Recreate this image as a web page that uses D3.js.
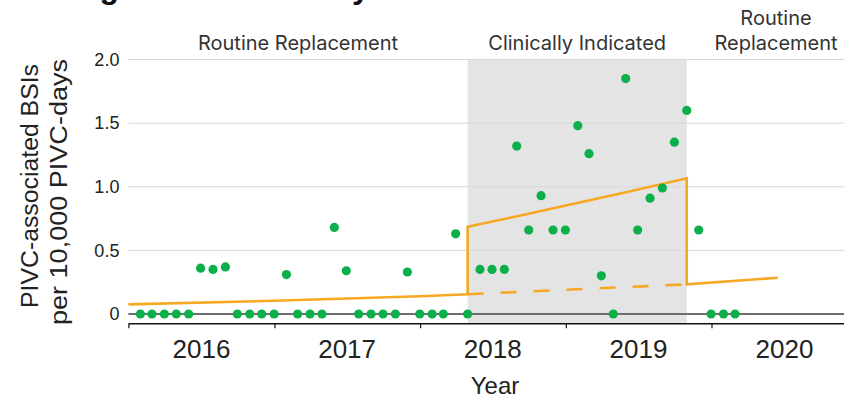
<!DOCTYPE html>
<html>
<head>
<meta charset="utf-8">
<script src="https://cdn.jsdelivr.net/npm/d3@7"></script>
<style>
  html, body { margin: 0; padding: 0; background: #fff; overflow: hidden; }
  svg { display: block; }
</style>
</head>
<body>
<svg id="chart" width="844" height="396"></svg>
<script>
// Monthly PIVC-associated BSI rate (per 10,000 PIVC-days), Jan 2016 - Feb 2020
const months = [
  "2016-01","2016-02","2016-03","2016-04","2016-05","2016-06","2016-07","2016-08","2016-09","2016-10","2016-11","2016-12",
  "2017-01","2017-02","2017-03","2017-04","2017-05","2017-06","2017-07","2017-08","2017-09","2017-10","2017-11","2017-12",
  "2018-01","2018-02","2018-03","2018-04","2018-05","2018-06","2018-07","2018-08","2018-09","2018-10","2018-11","2018-12",
  "2019-01","2019-02","2019-03","2019-04","2019-05","2019-06","2019-07","2019-08","2019-09","2019-10","2019-11","2019-12",
  "2020-01","2020-02"
];
const rates = [
  0, 0, 0, 0, 0, 0.36, 0.35, 0.37, 0, 0, 0, 0,
  0.31, 0, 0, 0, 0.68, 0.34, 0, 0, 0, 0, 0.33, 0,
  0, 0, 0.63, 0, 0.35, 0.35, 0.35, 1.32, 0.66, 0.93, 0.66, 0.66,
  1.48, 1.26, 0.30, 0, 1.85, 0.66, 0.91, 0.99, 1.35, 1.60, 0.66, 0,
  0, 0
];

// Segmented regression fits [date, rate]
const fitRoutineBefore = [["2016-01-01", 0.076], ["2017-01-01", 0.104], ["2018-01-01", 0.139], ["2018-04-30", 0.155]];
const fitClinical      = [["2018-04-30", 0.686], ["2018-09-01", 0.768], ["2019-01-01", 0.853], ["2019-06-01", 0.957], ["2019-10-31", 1.066]];
const fitRoutineAfter  = [["2019-10-31", 0.233], ["2020-06-15", 0.285]];
// Expected trend had routine replacement continued
const fitCounterfactual = [["2018-04-30", 0.155], ["2019-01-01", 0.190], ["2019-10-31", 0.233]];

// Study periods
const clinicalStart = "2018-04-30";
const clinicalEnd = "2019-10-31";

const yTicks = [0, 0.5, 1.0, 1.5, 2.0];
const yearLabels = ["2016", "2017", "2018", "2019", "2020"];

const titleText = "During the Three Study Periods";
const yTitleLines = ["PIVC-associated BSIs", "per 10,000 PIVC-days"];
const xTitle = "Year";

const FONT = "'Liberation Sans', Arial, Helvetica, sans-serif";
const LABEL_FONT = "Inter, 'Liberation Sans', sans-serif";
const GREEN = "#0cb04a";
const ORANGE = "#f7a823";

const parseDay = d3.utcParse("%Y-%m-%d");
const parseMonth = d3.utcParse("%Y-%m");
const monthEnd = m => d3.utcDay.offset(d3.utcMonth.offset(parseMonth(m), 1), -1);

const left = 128.4, right = 844, axisY = 323.3;

const x = d3.scaleUtc()
  .domain([parseDay("2016-01-01"), parseDay("2020-11-28")])
  .range([left, right]);
const y = d3.scaleLinear().domain([0, 2]).range([314, 59.5]);

const svg = d3.select("#chart");

// Title (runs off the top edge)
svg.append("text")
  .attr("x", 16).attr("y", -2)
  .attr("font-family", FONT).attr("font-weight", 700).attr("font-size", 32)
  .attr("fill", "#111")
  .text(titleText);

// Clinically indicated period shading
svg.append("rect")
  .attr("x", x(parseDay(clinicalStart)))
  .attr("width", x(parseDay(clinicalEnd)) - x(parseDay(clinicalStart)))
  .attr("y", y(2))
  .attr("height", axisY - y(2))
  .attr("fill", "#e4e4e4");

// Horizontal gridlines
svg.append("g").selectAll("line")
  .data(yTicks.filter(d => d > 0))
  .join("line")
  .attr("x1", left).attr("x2", right)
  .attr("y1", d => y(d)).attr("y2", d => y(d))
  .attr("stroke", "#d8d8d8").attr("stroke-width", 1);

// Zero reference line
svg.append("line")
  .attr("x1", left).attr("x2", right)
  .attr("y1", y(0)).attr("y2", y(0))
  .attr("stroke", "#6e6e6e").attr("stroke-width", 2);

// Y axis labels
const yAxis = svg.append("g")
  .attr("transform", `translate(${left},0)`)
  .call(d3.axisLeft(y).tickValues(yTicks).tickSize(0).tickPadding(9)
    .tickFormat(d => d === 0 ? "0" : d3.format(".1f")(d)));
yAxis.select(".domain").remove();
yAxis.attr("font-family", FONT).attr("font-size", 18);
yAxis.selectAll("text").attr("fill", "#222");

// X axis with year ticks
const xAxis = svg.append("g")
  .attr("transform", `translate(0,${axisY})`)
  .call(d3.axisBottom(x).ticks(d3.utcYear.every(1)).tickSize(5).tickSizeOuter(0).tickFormat(""));
xAxis.select(".domain").attr("stroke", "#111").attr("stroke-width", 1.5);
xAxis.selectAll(".tick line").attr("stroke", "#111").attr("stroke-width", 1.2);

// Year labels centred within each year
svg.append("g").selectAll("text")
  .data(yearLabels)
  .join("text")
  .attr("x", d => x(parseDay(d + "-07-02")))
  .attr("y", 358)
  .attr("text-anchor", "middle")
  .attr("font-family", FONT).attr("font-size", 26)
  .attr("fill", "#222")
  .text(d => d);

// Axis titles
svg.append("text")
  .attr("x", 495).attr("y", 394)
  .attr("text-anchor", "middle")
  .attr("font-family", FONT).attr("font-size", 24)
  .attr("fill", "#222")
  .text(xTitle);

const yTitleSpec = [
  { base: 38, center: 186, length: 244 },
  { base: 67, center: 192, length: 266 }
];
svg.append("g").selectAll("text")
  .data(yTitleLines)
  .join("text")
  .attr("transform", (d, i) => `translate(${yTitleSpec[i].base},${yTitleSpec[i].center}) rotate(-90)`)
  .attr("text-anchor", "middle")
  .attr("textLength", (d, i) => yTitleSpec[i].length)
  .attr("lengthAdjust", "spacingAndGlyphs")
  .attr("font-family", FONT).attr("font-size", 23)
  .attr("fill", "#222")
  .text(d => d);

// Period labels
const periodLabels = [
  { lines: ["Routine Replacement"], cx: (left + x(parseDay(clinicalStart))) / 2 },
  { lines: ["Clinically Indicated"], cx: (x(parseDay(clinicalStart)) + x(parseDay(clinicalEnd))) / 2 },
  { lines: ["Routine", "Replacement"], cx: 776 }
];
periodLabels.forEach(p => {
  p.lines.forEach((t, i) => {
    svg.append("text")
      .attr("x", p.cx)
      .attr("y", 50 - (p.lines.length - 1 - i) * 25)
      .attr("text-anchor", "middle")
      .attr("font-family", LABEL_FONT).attr("font-size", 20)
      .attr("fill", "#333")
      .text(t);
  });
});

// Fitted trend lines
const line = d3.line()
  .x(d => x(parseDay(d[0])))
  .y(d => y(d[1]));

svg.append("path")
  .datum(fitCounterfactual)
  .attr("d", line)
  .attr("fill", "none")
  .attr("stroke", ORANGE).attr("stroke-width", 2.6)
  .attr("stroke-dasharray", "16,17");

svg.append("path")
  .datum(fitRoutineBefore.concat(fitClinical, fitRoutineAfter))
  .attr("d", line)
  .attr("fill", "none")
  .attr("stroke", ORANGE).attr("stroke-width", 2.6)
  .attr("stroke-linejoin", "miter");

// Monthly observed rates
svg.append("g").selectAll("circle")
  .data(months.map((m, i) => ({ m, v: rates[i] })))
  .join("circle")
  .attr("cx", d => x(monthEnd(d.m)))
  .attr("cy", d => y(d.v))
  .attr("r", 4.6)
  .attr("fill", GREEN);
</script>
</body>
</html>
